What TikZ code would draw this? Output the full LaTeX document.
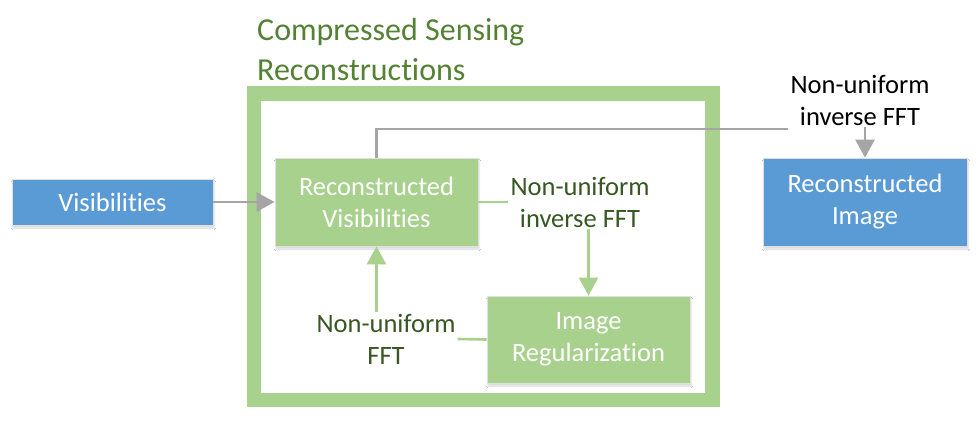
\documentclass[tikz,border=0pt]{standalone}
\usepackage{fontspec}
\setmainfont[Ligatures=NoCommon]{Carlito}
\usetikzlibrary{arrows.meta,shadows.blur}
\definecolor{gfill}{HTML}{A9D18E}
\definecolor{bfill}{HTML}{5B9BD5}
\definecolor{gline}{HTML}{A5A5A5}
\definecolor{gtext}{HTML}{548235}
\definecolor{dtext}{HTML}{385723}
\tikzset{
  box/.style={draw=white!75!gray, line width=0.8pt, text=white, align=center,
    font=\fontsize{26.5}{32}\selectfont, inner sep=0pt,
    blur shadow={shadow xshift=1pt, shadow yshift=-3pt, shadow blur steps=5, shadow opacity=15}},
  gbox/.style={box, fill=gfill},
  bbox/.style={box, fill=bfill},
  lab/.style={align=center, font=\fontsize{26.5}{32}\selectfont, inner sep=2pt},
  garrow/.style={draw=gline, line width=2.6pt, -{Triangle[length=18pt,width=19pt]}},
  gray line/.style={draw=gline, line width=2.6pt},
  grarrow/.style={draw=gfill, line width=2.6pt, -{Triangle[length=18pt,width=19pt]}},
  green line/.style={draw=gfill, line width=2.6pt},
}
\begin{document}
\begin{tikzpicture}[x=1pt,y=-1pt]
\useasboundingbox[fill=white] (0,0) rectangle (980,423);
% frame
\draw[draw=gfill, line width=14.5pt] (254,93.5) rectangle (712.5,400);
\node[anchor=west, align=left, text=gtext, font=\fontsize{32}{40}\selectfont, inner sep=0pt] (title) at (257,50) {Compressed Sensing\\Reconstructions};
% boxes
\node[bbox, minimum width=201pt, minimum height=46pt] (vis) at (112.5,202) {Visibilities};
\node[gbox, minimum width=203pt, minimum height=88pt] (recvis) at (376.5,202) {Reconstructed\\Visibilities};
\node[gbox, minimum width=203pt, minimum height=87pt] (imgreg) at (588.5,339.5) {Image\\Regularization};
\node[bbox, minimum width=204pt, minimum height=88pt] (recimg) at (865,202) {Reconstructed\\Image};
% labels
\node[lab, text=black] (lab1) at (860,100) {Non-uniform\\inverse FFT};
\node[lab, text=dtext] (lab2) at (580,202) {Non-uniform\\inverse FFT};
\node[lab, text=dtext] (lab3) at (386,339) {Non-uniform\\FFT};
\coordinate (c1) at (788,129);
% connectors
\draw[garrow] (vis) -- (recvis);
\draw[gray line] (recvis.north) |- (c1);
\draw[garrow] (recimg.north |- lab1.south) -- (recimg.north);
\draw[green line] (recvis.east) -- (lab2.west);
\draw[grarrow] (imgreg.north |- lab2.south) -- (imgreg.north);
\draw[green line] (lab3.east) -- (imgreg.west);
\draw[grarrow] (recvis.south |- lab3.north) -- (recvis.south);
\end{tikzpicture}
\end{document}
